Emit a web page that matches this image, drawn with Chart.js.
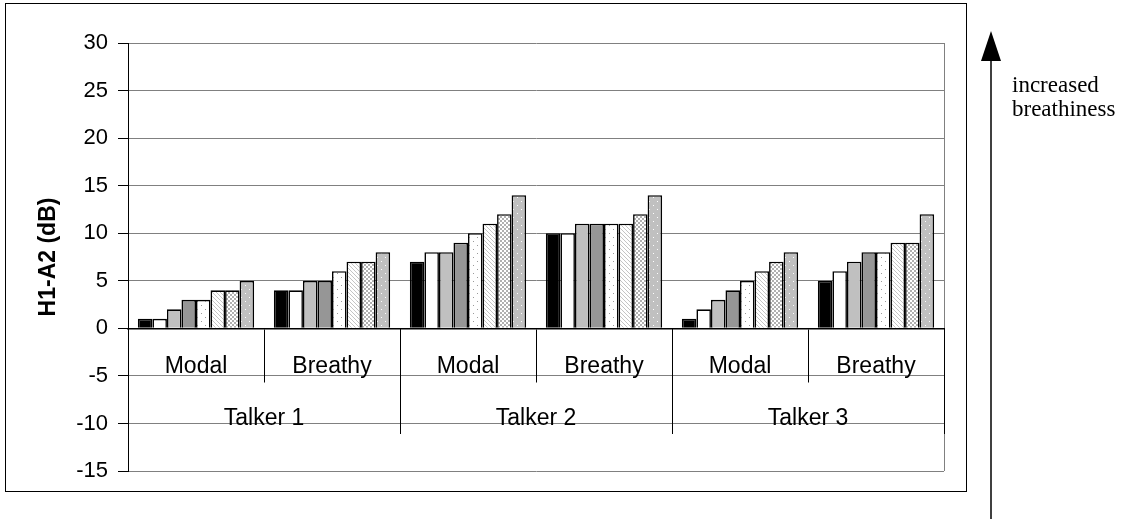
<!DOCTYPE html>
<html>
<head>
<meta charset="utf-8">
<script src="https://cdn.jsdelivr.net/npm/chart.js@4"></script>
<style>
  html, body { margin: 0; padding: 0; background: #fff; }
  #wrap { width: 1128px; height: 519px; }
</style>
</head>
<body>
<div id="wrap"><canvas id="chart" width="1128" height="519"></canvas></div>
<script>
// categories
const voiceLabels = ['Modal', 'Breathy', 'Modal', 'Breathy', 'Modal', 'Breathy'];
const talkerLabels = ['Talker 1', 'Talker 2', 'Talker 3'];
const yTicks = [30, 25, 20, 15, 10, 5, 0, -5, -10, -15];

// one array per bar in each group (8 bars per group)
const bar1 = [1, 4, 7, 10, 1, 5];
const bar2 = [1, 4, 8, 10, 2, 6];
const bar3 = [2, 5, 8, 11, 3, 7];
const bar4 = [3, 5, 9, 11, 4, 8];
const bar5 = [3, 6, 10, 11, 5, 8];
const bar6 = [4, 7, 11, 11, 6, 9];
const bar7 = [4, 7, 12, 12, 7, 9];
const bar8 = [5, 8, 14, 14, 8, 12];

const sans = "'Liberation Sans', Arial, sans-serif";
const serif = "'Liberation Serif', 'Times New Roman', serif";

function makePattern(size, bg, fg, pixels) {
  const c = document.createElement('canvas');
  c.width = size; c.height = size;
  const g = c.getContext('2d');
  g.fillStyle = bg;
  g.fillRect(0, 0, size, size);
  g.fillStyle = fg;
  pixels.forEach(p => g.fillRect(p[0], p[1], 1, 1));
  return g.createPattern(c, 'repeat');
}

const dots = makePattern(8, '#ffffff', '#9a9a9a', [[1, 1], [5, 5]]);
const hatch = makePattern(4, '#ffffff', '#c4c4c4', [[0, 0], [1, 1], [2, 2], [3, 3]]);
const checker = makePattern(4, '#ffffff', '#b0b0b0', [[0, 0], [1, 0], [0, 1], [1, 1], [2, 2], [3, 2], [2, 3], [3, 3]]);
const greyDots = makePattern(8, '#c0c0c0', '#ffffff', [[1, 1], [5, 5]]);

const series = [bar1, bar2, bar3, bar4, bar5, bar6, bar7, bar8];
const fills = ['#000000', '#ffffff', '#c0c0c0', '#969696', dots, hatch, checker, greyDots];

const datasets = series.map((d, i) => ({
  label: 'bar ' + (i + 1),
  data: d,
  backgroundColor: fills[i],
  borderColor: '#000000',
  borderWidth: 1.6,
  barPercentage: 1.0,
  categoryPercentage: 0.855
}));

const frame = {
  id: 'frame',
  beforeDraw(chart) {
    const ctx = chart.ctx;
    const a = chart.chartArea;
    ctx.save();
    ctx.fillStyle = '#fff';
    ctx.fillRect(0, 0, chart.width, chart.height);
    ctx.strokeStyle = '#808080';
    ctx.lineWidth = 1;
    ctx.beginPath();
    ctx.moveTo(Math.round(a.right) + 0.5, a.top);
    ctx.lineTo(Math.round(a.right) + 0.5, a.bottom);
    ctx.stroke();
    ctx.restore();
  },
  afterDraw(chart) {
    const ctx = chart.ctx;
    ctx.save();
    // outer chart border
    ctx.strokeStyle = '#000';
    ctx.lineWidth = 1;
    ctx.strokeRect(5.5, 3.5, 961, 488);
    // "increased breathiness" arrow
    const ax = 991;
    ctx.lineWidth = 1.5;
    ctx.beginPath();
    ctx.moveTo(ax, 58);
    ctx.lineTo(ax, 519);
    ctx.stroke();
    ctx.fillStyle = '#000';
    ctx.beginPath();
    ctx.moveTo(ax, 31);
    ctx.lineTo(ax - 10, 61);
    ctx.lineTo(ax + 10, 61);
    ctx.closePath();
    ctx.fill();
    ctx.font = '23px ' + serif;
    ctx.textBaseline = 'middle';
    ctx.textAlign = 'left';
    ctx.fillText('increased', 1012, 86);
    ctx.fillText('breathiness', 1012, 110);
    ctx.restore();
  }
};

new Chart(document.getElementById('chart'), {
  type: 'bar',
  data: { labels: voiceLabels, datasets: datasets },
  options: {
    responsive: false,
    animation: false,
    layout: { padding: { left: 0, top: 43, right: 1128 - 944, bottom: 519 - 471 } },
    plugins: { legend: { display: false }, tooltip: { enabled: false } },
    scales: {
      y: {
        min: -15,
        max: 30,
        afterFit: s => { s.width = 128; },
        afterBuildTicks: s => { s.ticks = yTicks.map(v => ({ value: v })); },
        ticks: { color: '#000', font: { family: sans, size: 22 }, padding: 10 },
        grid: { color: '#808080', lineWidth: 1, tickColor: '#000', tickLength: 10 },
        border: { display: true, color: '#000', width: 1 },
        title: {
          display: true,
          text: 'H1-A2 (dB)',
          color: '#000',
          font: { family: sans, size: 23, weight: 'bold' },
          padding: { top: 35, bottom: 0 }
        }
      },
      x: {
        type: 'category',
        position: { y: 0 },
        offset: true,
        grid: { offset: true, drawOnChartArea: false, tickLength: 53, tickColor: '#000', tickWidth: 1 },
        border: { display: true, color: '#000', width: 1.5 },
        ticks: { color: '#000', font: { family: sans, size: 23 }, padding: -28, autoSkip: false, maxRotation: 0 }
      },
      x2: {
        type: 'category',
        labels: talkerLabels,
        position: { y: 0 },
        offset: true,
        grid: { offset: true, drawOnChartArea: false, tickLength: 106, tickColor: '#000', tickWidth: 1 },
        border: { display: false },
        ticks: { color: '#000', font: { family: sans, size: 23 }, padding: -29, autoSkip: false, maxRotation: 0 }
      }
    }
  },
  plugins: [frame]
});
</script>
</body>
</html>
